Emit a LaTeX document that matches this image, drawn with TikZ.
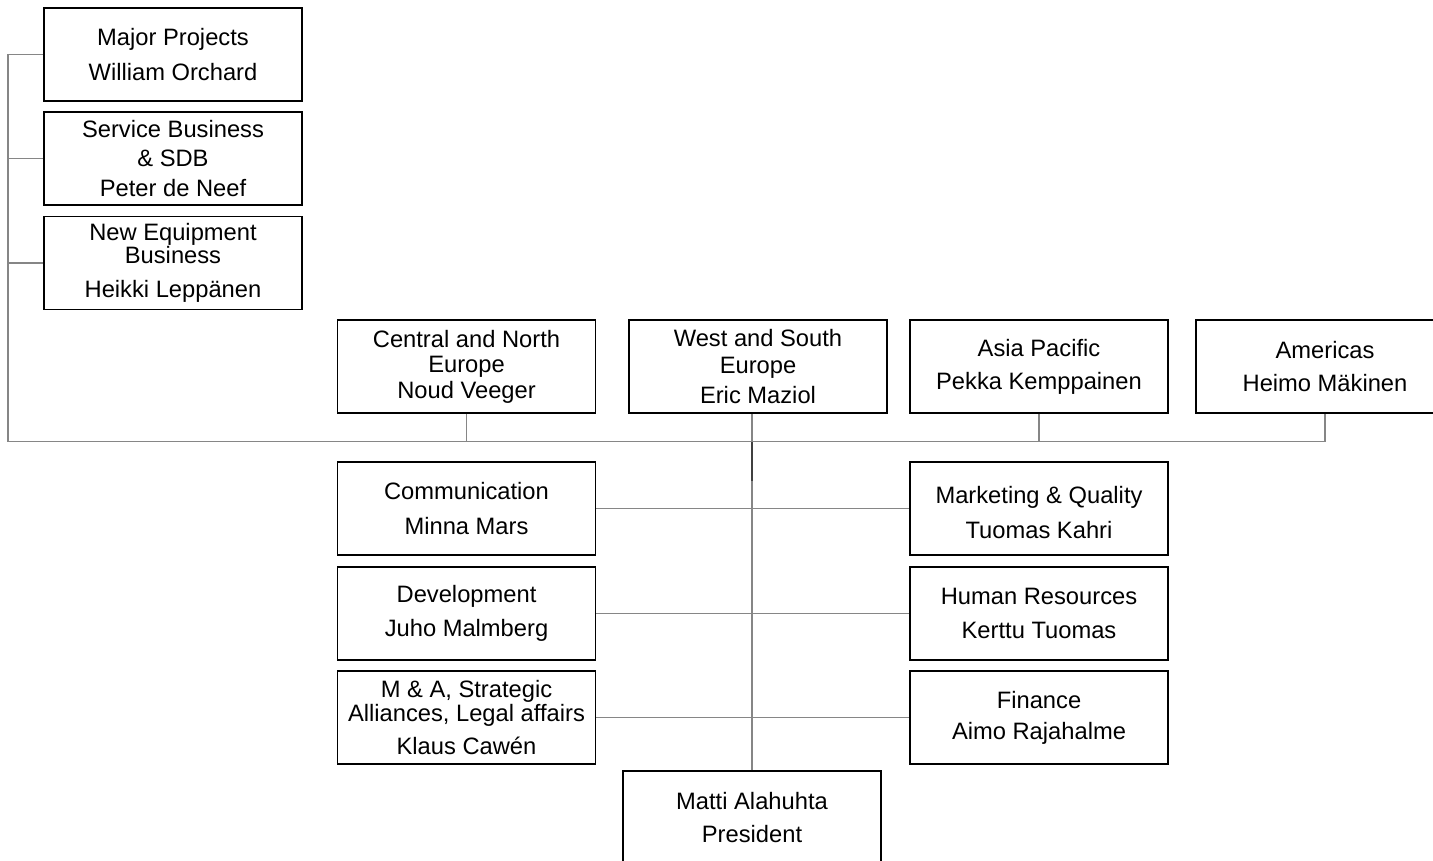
\documentclass[tikz,border=0pt]{standalone}
\usepackage{fontspec}
\setmainfont{Liberation Sans}

\begin{document}
\begin{tikzpicture}[x=0.02cm, y=-0.02cm,
		unit/.style={draw, line width=1.1pt, minimum width=5.16cm, minimum height=1.86cm, inner sep=0pt, align=center, font=\fontsize{13.5}{13.5}\selectfont},
		link/.style={draw=gray!95, line width=0.7pt},
		trunk/.style={draw=black!75, line width=1.2pt}]
			\useasboundingbox (0,0) rectangle (1433,861);
			% Business lines
			\node[unit] (major) at (173,54.5) {Major Projects\\[6.3pt]William Orchard};
			\node[unit] (service) at (173,158.5) {Service Business\\[3.2pt]\& SDB\\[3.2pt]Peter de Neef};
			\node[unit] (equip) at (173,263) {New Equipment\\[-0.5pt]Business\\[6.3pt]Heikki Leppänen};
			% Areas
			\node[unit] (central) at (466.5,366.5) {Central and North\\[1pt]Europe\\[1pt]Noud Veeger};
			\node[unit] (west) at (758,366.5) {West and South\\[1.8pt]Europe\\[3.5pt]Eric Maziol};
			\node[unit] (asia) at (1039,366.5) {Asia Pacific\\[5.2pt]Pekka Kemppainen};
			\node[unit] (americas) at (1325,366.5) {Americas\\[5.2pt]Heimo Mäkinen};
			% Staff
			\node[unit] (comm) at (466.5,508.5) {Communication\\[6.3pt]Minna Mars};
			\node[unit] (devel) at (466.5,613.5) {Development\\[5.8pt]Juho Malmberg};
			\node[unit] (mna) at (466.5,717.5) {M \& A, Strategic\\[0.1pt]Alliances, Legal affairs\\[5.2pt]Klaus Cawén};
			\node[unit] (mktg) at (1039,508.5) {\rule{0pt}{14pt}Marketing \& Quality\\[6.3pt]Tuomas Kahri};
			\node[unit] (hr) at (1039,613.5) {Human Resources\\[6.3pt]Kerttu Tuomas};
			\node[unit] (finance) at (1039,717.5) {Finance\\[4.1pt]Aimo Rajahalme};
			% President
			\node[unit] (president) at (752,817.5) {Matti Alahuhta\\[5.8pt]President};
			% Lines
			\coordinate (corner) at (8,441.5);
			\draw[link] (major.west) -| (corner) -- (corner -| americas.south) -- (americas.south);
			\draw[link] (service.west) -- (service.west -| corner);
			\draw[link] (equip.west) -- (equip.west -| corner);
			\draw[link] (central.south) -- (central.south |- corner);
			\draw[link] (asia.south) -- (asia.south |- corner);
			\draw[link] (president.north) -- (president.north |- west.south);
			\draw[trunk] (president.north |- corner) -- ++(0,39);
			\draw[link] (comm.east) -- (mktg.west);
			\draw[link] (devel.east) -- (hr.west);
			\draw[link] (mna.east) -- (finance.west);
		\end{tikzpicture}
\end{document}
